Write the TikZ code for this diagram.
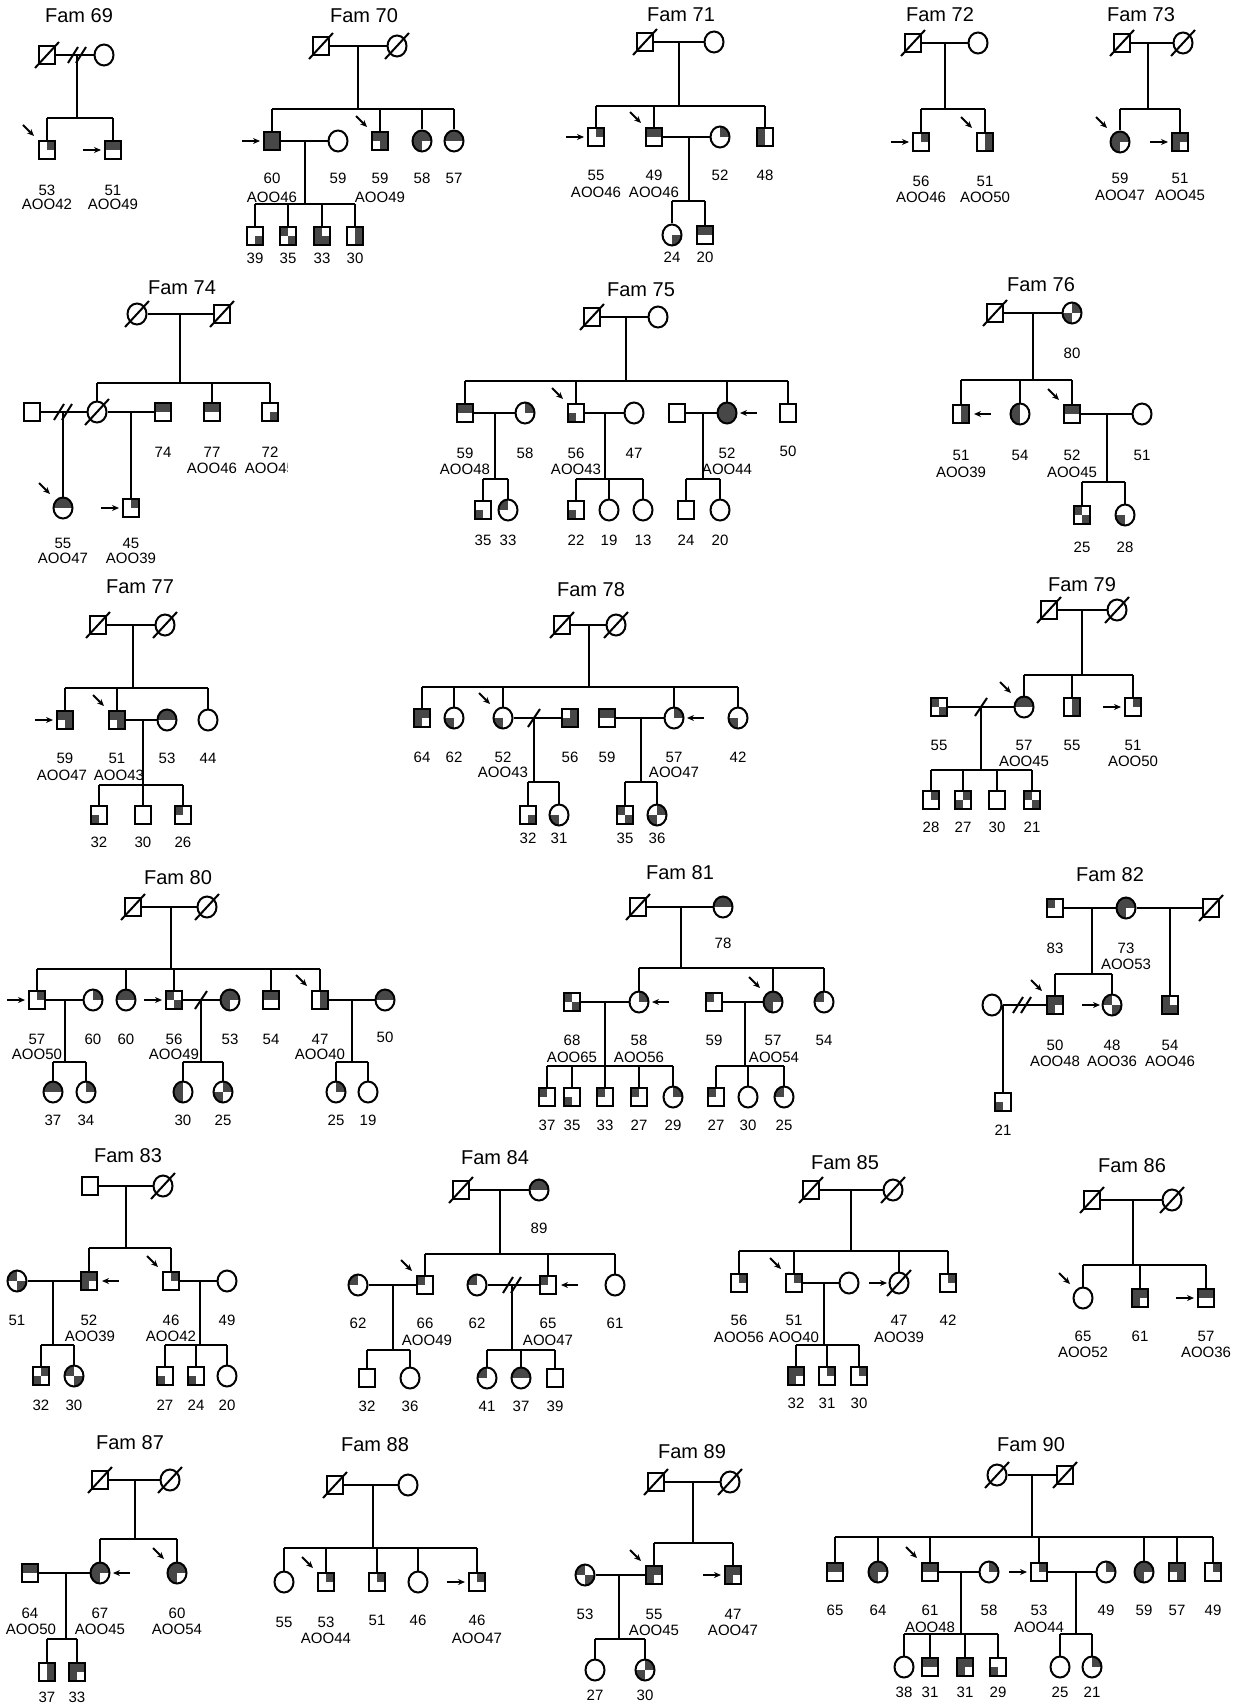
\documentclass[tikz,border=0pt]{standalone}
\usepackage{fontspec}
\setmainfont{Liberation Sans}
\usetikzlibrary{shapes.geometric,arrows.meta}
\tikzset{
 ln/.style={line width=2pt},
 sq/.style={draw,line width=2pt,rectangle,minimum width=16pt,minimum height=18pt,inner sep=0pt},
 ci/.style={draw,line width=2pt,ellipse,minimum width=19pt,minimum height=21pt,inner sep=0pt},
 af/.style={fill=black!72},
 lab/.style={font=\fontsize{15}{17}\selectfont,inner sep=0pt},
 ttl/.style={font=\fontsize{20}{24}\selectfont,inner sep=0pt},
 parr/.style={line width=1.8pt,-{Stealth[length=7pt,width=6pt]}},
}
\def\QF#1#2#3#4\relax{%
  \ifnum#1=1 \fill[af] (-12,-12) rectangle (0,0);\fi
  \ifnum#2=1 \fill[af] (0,-12) rectangle (12,0);\fi
  \ifnum#3=1 \fill[af] (-12,0) rectangle (0,12);\fi
  \ifnum#4=1 \fill[af] (0,0) rectangle (12,12);\fi}
\newcommand\SQ[3]{\begin{scope}[shift={(#2)}]\clip (-8,-9) rectangle (8,9);\QF#3\relax\end{scope}\node[sq] (#1) at (#2) {};}
\newcommand\CI[3]{\begin{scope}[shift={(#2)}]\clip (0,0) ellipse [x radius=9.5, y radius=10.5];\QF#3\relax\end{scope}\node[ci] (#1) at (#2) {};}
\newcommand\DEC[1]{\draw[ln] ([shift={(-12,13)}]#1.center) -- ([shift={(12,-13)}]#1.center);}
\newcommand\PRO[1]{\draw[parr] ([shift={(-24,-25)}]#1.center) -- ([shift={(-13,-14)}]#1.center);}
\newcommand\ARL[1]{\draw[parr] ([shift={(-30,0)}]#1.center) -- ([shift={(-12,0)}]#1.center);}
\newcommand\ARR[1]{\draw[parr] ([shift={(30,0)}]#1.center) -- ([shift={(13,0)}]#1.center);}
\newcommand\DIV[1]{\draw[ln] ([shift={(-9,8)}]#1) -- ([shift={(1,-8)}]#1); \draw[ln] ([shift={(-1,8)}]#1) -- ([shift={(9,-8)}]#1);}
\newcommand\SEP[1]{\draw[ln] ([shift={(-6,9)}]#1) -- ([shift={(6,-9)}]#1);}
\newcommand\SIB[4]{\draw[ln] (#1) -- (#2); \draw[ln] (#3 |- #2) -- (#4 |- #2);}
\newcommand\KIDS[2]{\foreach \kid in {#2}{\draw[ln] (\kid |- #1) -- (\kid);}}
\newcounter{lbl}
\newcommand\LB[2]{\stepcounter{lbl}\node[lab] (lb\thelbl) at (#1) {#2};}
\begin{document}
\begin{tikzpicture}[x=1pt,y=-1pt]
\useasboundingbox (0,0) rectangle (1245,1704);
% ---------- Fam 69
\node[ttl] (t69) at (79,16) {Fam 69};
\SQ{a69}{47,55}{0000}\DEC{a69}
\CI{b69}{104,55}{0000}
\draw[ln] (a69) -- (b69);
\coordinate (m69) at (77,55); \coordinate (s69) at (77,118); \DIV{m69}
\SQ{c69}{47,150}{0100}\PRO{c69}
\SQ{d69}{113,150}{1100}\ARL{d69}
\SIB{m69}{s69}{c69}{d69}\KIDS{s69}{c69,d69}
\LB{47,190}{53}\LB{47,204}{AOO42}\LB{113,190}{51}\LB{113,204}{AOO49}
% ---------- Fam 70
\node[ttl] (t70) at (364,16) {Fam 70};
\SQ{a70}{321,46}{0000}\DEC{a70}
\CI{b70}{397,46}{0000}\DEC{b70}
\draw[ln] (a70) -- (b70);
\coordinate (m70) at (358,46); \coordinate (s70) at (358,109);
\SQ{c70}{272,141}{1111}\ARL{c70}
\CI{d70}{338,141}{0000}
\SQ{e70}{380,141}{1101}\PRO{e70}
\CI{f70}{422,141}{1110}
\CI{g70}{454,141}{1100}
\SIB{m70}{s70}{c70}{g70}\KIDS{s70}{c70,e70,f70,g70}
\draw[ln] (c70) -- (d70);
\coordinate (n70) at (305,141); \coordinate (u70) at (305,204);
\SQ{h70}{255,236}{0001}\SQ{i70}{288,236}{1001}\SQ{j70}{322,236}{1011}\SQ{k70}{355,236}{0101}
\SIB{n70}{u70}{h70}{k70}\KIDS{u70}{h70,i70,j70,k70}
\LB{272,178}{60}\LB{272,197}{AOO46}\LB{338,178}{59}\LB{380,178}{59}\LB{380,197}{AOO49}
\LB{422,178}{58}\LB{454,178}{57}
\LB{255,258}{39}\LB{288,258}{35}\LB{322,258}{33}\LB{355,258}{30}
% ---------- Fam 71
\node[ttl] (t71) at (681,15) {Fam 71};
\SQ{a71}{645,42}{0000}\DEC{a71}
\CI{b71}{714,42}{0000}
\draw[ln] (a71) -- (b71);
\coordinate (m71) at (679,42); \coordinate (s71) at (679,106);
\SQ{c71}{596,137}{0100}\ARL{c71}
\SQ{d71}{654,137}{1100}\PRO{d71}
\CI{e71}{720,137}{0100}
\SQ{f71}{765,137}{1010}
\SIB{m71}{s71}{c71}{f71}\KIDS{s71}{c71,d71,f71}
\draw[ln] (d71) -- (e71);
\coordinate (n71) at (689,137); \coordinate (u71) at (689,201);
\CI{g71}{672,235}{0001}\SQ{h71}{705,235}{1100}
\SIB{n71}{u71}{g71}{h71}\KIDS{u71}{g71,h71}
\LB{596,175}{55}\LB{596,192}{AOO46}\LB{654,175}{49}\LB{654,192}{AOO46}
\LB{720,175}{52}\LB{765,175}{48}\LB{672,257}{24}\LB{705,257}{20}
% ---------- Fam 72
\node[ttl] (t72) at (940,15) {Fam 72};
\SQ{a72}{913,43}{0000}\DEC{a72}
\CI{b72}{978,43}{0000}
\draw[ln] (a72) -- (b72);
\coordinate (m72) at (945,43); \coordinate (s72) at (945,109);
\SQ{c72}{921,142}{0100}\ARL{c72}
\SQ{d72}{985,142}{0101}\PRO{d72}
\SIB{m72}{s72}{c72}{d72}\KIDS{s72}{c72,d72}
\LB{921,181}{56}\LB{921,197}{AOO46}\LB{985,181}{51}\LB{985,197}{AOO50}
% ---------- Fam 73
\node[ttl] (t73) at (1141,15) {Fam 73};
\SQ{a73}{1122,43}{0000}\DEC{a73}
\CI{b73}{1183,43}{0000}\DEC{b73}
\draw[ln] (a73) -- (b73);
\coordinate (m73) at (1148,43); \coordinate (s73) at (1148,109);
\CI{c73}{1120,142}{1110}\PRO{c73}
\SQ{d73}{1180,142}{1110}\ARL{d73}
\SIB{m73}{s73}{c73}{d73}\KIDS{s73}{c73,d73}
\LB{1120,178}{59}\LB{1120,195}{AOO47}\LB{1180,178}{51}\LB{1180,195}{AOO45}
% ---------- Fam 74
\node[ttl] (t74) at (182,288) {Fam 74};
\CI{a74}{137,314}{0000}\DEC{a74}
\SQ{b74}{222,314}{0000}\DEC{b74}
\draw[ln] (a74) -- (b74);
\coordinate (m74) at (180,314); \coordinate (s74) at (180,383);
\SQ{c74}{32,412}{0000}
\CI{d74}{97,412}{0000}\DEC{d74}
\SQ{e74}{163,412}{1100}
\SQ{f74}{212,412}{1100}
\SQ{g74}{270,412}{0001}
\SIB{m74}{s74}{d74}{g74}\KIDS{s74}{d74,f74,g74}
\draw[ln] (c74) -- (d74);
\coordinate (n74) at (63,412); \DIV{n74}
\CI{h74}{63,508}{1100}\PRO{h74}
\draw[ln] (n74) -- (h74);
\draw[ln] (d74) -- (e74);
\coordinate (o74) at (131,412);
\SQ{i74}{131,508}{0100}\ARL{i74}
\draw[ln] (o74) -- (i74);
\LB{163,452}{74}\LB{212,452}{77}\LB{212,468}{AOO46}\LB{270,452}{72}
\begin{scope}\clip (240,455) rectangle (287,482);\LB{270,468}{AOO45}\end{scope}
\LB{63,543}{55}\LB{63,558}{AOO47}\LB{131,543}{45}\LB{131,558}{AOO39}
% ---------- Fam 75
\node[ttl] (t75) at (641,290) {Fam 75};
\SQ{a75}{592,317}{0000}\DEC{a75}
\CI{b75}{658,317}{0000}
\draw[ln] (a75) -- (b75);
\coordinate (m75) at (626,317); \coordinate (s75) at (626,381);
\SQ{c75}{465,413}{1100}\CI{d75}{525,413}{0100}
\SQ{e75}{576,413}{0010}\PRO{e75}\CI{f75}{634,413}{0000}
\SQ{g75}{677,413}{0000}\CI{h75}{727,413}{1111}\ARR{h75}
\SQ{i75}{788,413}{0000}
\SIB{m75}{s75}{c75}{i75}\KIDS{s75}{c75,e75,h75,i75}
\draw[ln] (c75) -- (d75); \draw[ln] (e75) -- (f75); \draw[ln] (g75) -- (h75);
\coordinate (n75) at (495,413); \coordinate (u75) at (495,479);
\SQ{j75}{483,510}{0010}\CI{k75}{508,510}{1000}
\SIB{n75}{u75}{j75}{k75}\KIDS{u75}{j75,k75}
\coordinate (o75) at (605,413); \coordinate (v75) at (605,479);
\SQ{l75}{576,510}{0010}\CI{p75}{609,510}{0000}\CI{q75}{643,510}{0000}
\SIB{o75}{v75}{l75}{q75}\KIDS{v75}{l75,p75,q75}
\coordinate (r75) at (703,413); \coordinate (w75) at (703,479);
\SQ{x75}{686,510}{0000}\CI{y75}{720,510}{0000}
\SIB{r75}{w75}{x75}{y75}\KIDS{w75}{x75,y75}
\LB{465,453}{59}\LB{465,469}{AOO48}\LB{525,453}{58}\LB{576,453}{56}\LB{576,469}{AOO43}
\LB{634,453}{47}\LB{727,453}{52}\LB{727,469}{AOO44}\LB{788,451}{50}
\LB{483,540}{35}\LB{508,540}{33}\LB{576,540}{22}\LB{609,540}{19}\LB{643,540}{13}\LB{686,540}{24}\LB{720,540}{20}
% ---------- Fam 76
\node[ttl] (t76) at (1041,285) {Fam 76};
\SQ{a76}{995,313}{0000}\DEC{a76}
\CI{b76}{1072,313}{0110}
\draw[ln] (a76) -- (b76);
\coordinate (m76) at (1033,313); \coordinate (s76) at (1033,380);
\SQ{c76}{961,414}{0101}\ARR{c76}
\CI{d76}{1020,414}{1010}
\SQ{e76}{1072,414}{1100}\PRO{e76}
\CI{f76}{1142,414}{0000}
\SIB{m76}{s76}{c76}{e76}\KIDS{s76}{c76,d76,e76}
\draw[ln] (e76) -- (f76);
\coordinate (n76) at (1107,414); \coordinate (u76) at (1107,482);
\SQ{g76}{1082,515}{1001}\CI{h76}{1125,515}{0010}
\SIB{n76}{u76}{g76}{h76}\KIDS{u76}{g76,h76}
\LB{1072,353}{80}\LB{961,455}{51}\LB{961,472}{AOO39}\LB{1020,455}{54}\LB{1072,455}{52}\LB{1072,472}{AOO45}
\LB{1142,455}{51}\LB{1082,547}{25}\LB{1125,547}{28}
% ---------- Fam 77
\node[ttl] (t77) at (140,587) {Fam 77};
\SQ{a77}{98,625}{0000}\DEC{a77}
\CI{b77}{165,625}{0000}\DEC{b77}
\draw[ln] (a77) -- (b77);
\coordinate (m77) at (133,625); \coordinate (s77) at (133,688);
\SQ{c77}{65,720}{1101}\ARL{c77}
\SQ{d77}{117,720}{1101}\PRO{d77}
\CI{e77}{167,720}{1100}
\CI{f77}{208,720}{0000}
\SIB{m77}{s77}{c77}{f77}\KIDS{s77}{c77,d77,f77}
\draw[ln] (d77) -- (e77);
\coordinate (n77) at (143,720); \coordinate (u77) at (143,785);
\SQ{g77}{99,815}{0010}\SQ{h77}{143,815}{0000}\SQ{i77}{183,815}{1000}
\SIB{n77}{u77}{g77}{i77}\KIDS{u77}{g77,h77,i77}
\LB{65,758}{59}\LB{62,775}{AOO47}\LB{117,758}{51}\LB{119,775}{AOO43}\LB{167,758}{53}\LB{208,758}{44}
\LB{99,842}{32}\LB{143,842}{30}\LB{183,842}{26}
% ---------- Fam 78
\node[ttl] (t78) at (591,590) {Fam 78};
\SQ{a78}{562,625}{0000}\DEC{a78}
\CI{b78}{616,625}{0000}\DEC{b78}
\draw[ln] (a78) -- (b78);
\coordinate (m78) at (589,625); \coordinate (s78) at (589,687);
\SQ{c78}{422,718}{1110}\CI{d78}{454,718}{0010}
\CI{e78}{503,718}{0010}\PRO{e78}\SQ{f78}{570,718}{0111}
\SQ{g78}{607,718}{1100}\CI{h78}{674,718}{0100}\ARR{h78}
\CI{i78}{738,718}{0010}
\SIB{m78}{s78}{c78}{i78}\KIDS{s78}{c78,d78,e78,h78,i78}
\draw[ln] (e78) -- (f78); \draw[ln] (g78) -- (h78);
\coordinate (n78) at (534,718); \coordinate (u78) at (534,782); \SEP{n78}
\SQ{j78}{528,815}{0001}\CI{k78}{559,815}{0010}
\SIB{n78}{u78}{j78}{k78}\KIDS{u78}{j78,k78}
\coordinate (o78) at (641,718); \coordinate (v78) at (641,782);
\SQ{l78}{625,815}{1001}\CI{p78}{657,815}{0110}
\SIB{o78}{v78}{l78}{p78}\KIDS{v78}{l78,p78}
\LB{422,757}{64}\LB{454,757}{62}\LB{503,757}{52}\LB{503,772}{AOO43}\LB{570,757}{56}
\LB{607,757}{59}\LB{674,757}{57}\LB{674,772}{AOO47}\LB{738,757}{42}
\LB{528,838}{32}\LB{559,838}{31}\LB{625,838}{35}\LB{657,838}{36}
% ---------- Fam 79
\node[ttl] (t79) at (1082,585) {Fam 79};
\SQ{a79}{1049,610}{0000}\DEC{a79}
\CI{b79}{1117,610}{0000}\DEC{b79}
\draw[ln] (a79) -- (b79);
\coordinate (m79) at (1082,610); \coordinate (s79) at (1082,675);
\SQ{c79}{939,707}{1001}
\CI{d79}{1024,707}{1100}\PRO{d79}
\SQ{e79}{1072,707}{0101}
\SQ{f79}{1133,707}{0100}\ARL{f79}
\SIB{m79}{s79}{d79}{f79}\KIDS{s79}{d79,e79,f79}
\draw[ln] (c79) -- (d79);
\coordinate (n79) at (981,707); \coordinate (u79) at (981,770); \SEP{n79}
\SQ{g79}{931,800}{0100}\SQ{h79}{963,800}{0110}\SQ{i79}{997,800}{0000}\SQ{j79}{1032,800}{1001}
\SIB{n79}{u79}{g79}{j79}\KIDS{u79}{g79,h79,i79,j79}
\LB{939,745}{55}\LB{1024,745}{57}\LB{1024,761}{AOO45}\LB{1072,745}{55}\LB{1133,745}{51}\LB{1133,761}{AOO50}
\LB{931,827}{28}\LB{963,827}{27}\LB{997,827}{30}\LB{1032,827}{21}
% ---------- Fam 80
\node[ttl] (t80) at (178,878) {Fam 80};
\SQ{a80}{133,907}{0000}\DEC{a80}
\CI{b80}{207,907}{0000}\DEC{b80}
\draw[ln] (a80) -- (b80);
\coordinate (m80) at (171,907); \coordinate (s80) at (171,969);
\SQ{c80}{37,1000}{0100}\ARL{c80}\CI{d80}{93,1000}{0100}
\CI{e80}{126,1000}{1100}
\SQ{f80}{174,1000}{1001}\ARL{f80}\CI{g80}{230,1000}{1110}
\SQ{h80}{271,1000}{1100}
\SQ{i80}{320,1000}{0101}\PRO{i80}\CI{j80}{385,1000}{1100}
\SIB{m80}{s80}{c80}{i80}\KIDS{s80}{c80,e80,f80,h80,i80}
\draw[ln] (c80) -- (d80); \draw[ln] (f80) -- (g80); \draw[ln] (i80) -- (j80);
\coordinate (n80) at (65,1000); \coordinate (u80) at (65,1062);
\CI{k80}{53,1092}{1100}\CI{l80}{86,1092}{0100}
\SIB{n80}{u80}{k80}{l80}\KIDS{u80}{k80,l80}
\coordinate (o80) at (201,1000); \coordinate (v80) at (201,1062); \SEP{o80}
\CI{p80}{183,1092}{1010}\CI{q80}{223,1092}{0110}
\SIB{o80}{v80}{p80}{q80}\KIDS{v80}{p80,q80}
\coordinate (r80) at (352,1000); \coordinate (w80) at (352,1062);
\CI{x80}{336,1092}{0100}\CI{y80}{368,1092}{0000}
\SIB{r80}{w80}{x80}{y80}\KIDS{w80}{x80,y80}
\LB{37,1039}{57}\LB{37,1054}{AOO50}\LB{93,1039}{60}\LB{126,1039}{60}\LB{174,1039}{56}\LB{174,1054}{AOO49}
\LB{230,1039}{53}\LB{271,1039}{54}\LB{320,1039}{47}\LB{320,1054}{AOO40}\LB{385,1037}{50}
\LB{53,1120}{37}\LB{86,1120}{34}\LB{183,1120}{30}\LB{223,1120}{25}\LB{336,1120}{25}\LB{368,1120}{19}
% ---------- Fam 81
\node[ttl] (t81) at (680,873) {Fam 81};
\SQ{a81}{638,907}{0000}\DEC{a81}
\CI{b81}{723,907}{1100}
\draw[ln] (a81) -- (b81);
\coordinate (m81) at (681,907); \coordinate (s81) at (681,968);
\SQ{c81}{572,1002}{1001}\CI{d81}{639,1002}{0100}\ARR{d81}
\SQ{e81}{714,1002}{1000}\CI{f81}{773,1002}{1110}\PRO{f81}
\CI{g81}{824,1002}{1000}
\SIB{m81}{s81}{d81}{g81}\KIDS{s81}{d81,f81,g81}
\draw[ln] (c81) -- (d81); \draw[ln] (e81) -- (f81);
\coordinate (n81) at (605,1002); \coordinate (u81) at (605,1066);
\SQ{h81}{547,1097}{1000}\SQ{i81}{572,1097}{0010}\SQ{j81}{605,1097}{1000}\SQ{k81}{639,1097}{1000}\CI{l81}{673,1097}{0100}
\SIB{n81}{u81}{h81}{l81}\KIDS{u81}{h81,i81,j81,k81,l81}
\coordinate (o81) at (745,1002); \coordinate (v81) at (745,1066);
\SQ{p81}{716,1097}{1000}\CI{q81}{748,1097}{0000}\CI{r81}{784,1097}{1000}
\SIB{o81}{v81}{p81}{r81}\KIDS{v81}{p81,q81,r81}
\LB{723,943}{78}\LB{572,1040}{68}\LB{572,1057}{AOO65}\LB{639,1040}{58}\LB{639,1057}{AOO56}
\LB{714,1040}{59}\LB{773,1040}{57}\LB{774,1057}{AOO54}\LB{824,1040}{54}
\LB{547,1125}{37}\LB{572,1125}{35}\LB{605,1125}{33}\LB{639,1125}{27}\LB{673,1125}{29}
\LB{716,1125}{27}\LB{748,1125}{30}\LB{784,1125}{25}
% ---------- Fam 82
\node[ttl] (t82) at (1110,875) {Fam 82};
\SQ{a82}{1055,908}{1000}\CI{b82}{1126,908}{1110}\SQ{c82}{1211,908}{0000}\DEC{c82}
\draw[ln] (a82) -- (b82); \draw[ln] (b82) -- (c82);
\coordinate (m82) at (1092,908); \coordinate (s82) at (1092,974);
\SQ{d82}{1055,1005}{1110}\PRO{d82}
\CI{e82}{1112,1005}{1001}\ARL{e82}
\SIB{m82}{s82}{d82}{e82}\KIDS{s82}{d82,e82}
\coordinate (n82) at (1170,908);
\SQ{f82}{1170,1005}{1011}
\draw[ln] (n82) -- (f82);
\CI{g82}{992,1005}{0000}
\draw[ln] (g82) -- (d82);
\coordinate (o82) at (1022,1005); \DIV{o82}
\coordinate (p82) at (1003,1005);
\SQ{h82}{1003,1102}{0010}
\draw[ln] (p82) -- (h82);
\LB{1055,948}{83}\LB{1126,948}{73}\LB{1126,964}{AOO53}\LB{1055,1045}{50}\LB{1055,1061}{AOO48}
\LB{1112,1045}{48}\LB{1112,1061}{AOO36}\LB{1170,1045}{54}\LB{1170,1061}{AOO46}\LB{1003,1130}{21}
% ---------- Fam 83
\node[ttl] (t83) at (128,1156) {Fam 83};
\SQ{a83}{90,1186}{0000}
\CI{b83}{163,1186}{0000}\DEC{b83}
\draw[ln] (a83) -- (b83);
\coordinate (m83) at (126,1186); \coordinate (s83) at (126,1248);
\CI{c83}{17,1281}{1001}\SQ{d83}{89,1281}{1110}\ARR{d83}
\SQ{e83}{171,1281}{0100}\PRO{e83}\CI{f83}{227,1281}{0000}
\SIB{m83}{s83}{d83}{e83}\KIDS{s83}{d83,e83}
\draw[ln] (c83) -- (d83); \draw[ln] (e83) -- (f83);
\coordinate (n83) at (53,1281); \coordinate (u83) at (53,1345);
\SQ{g83}{41,1376}{0110}\CI{h83}{74,1376}{1001}
\SIB{n83}{u83}{g83}{h83}\KIDS{u83}{g83,h83}
\coordinate (o83) at (200,1281); \coordinate (v83) at (200,1345);
\SQ{i83}{165,1376}{0010}\SQ{j83}{196,1376}{0010}\CI{k83}{227,1376}{0000}
\SIB{o83}{v83}{i83}{k83}\KIDS{v83}{i83,j83,k83}
\LB{17,1320}{51}\LB{89,1320}{52}\LB{90,1336}{AOO39}\LB{171,1320}{46}\LB{171,1336}{AOO42}\LB{227,1320}{49}
\LB{41,1405}{32}\LB{74,1405}{30}\LB{165,1405}{27}\LB{196,1405}{24}\LB{227,1405}{20}
% ---------- Fam 84
\node[ttl] (t84) at (495,1158) {Fam 84};
\SQ{a84}{461,1190}{0000}\DEC{a84}
\CI{b84}{539,1190}{1100}
\draw[ln] (a84) -- (b84);
\coordinate (m84) at (500,1190); \coordinate (s84) at (500,1254);
\CI{c84}{358,1285}{1000}\SQ{d84}{425,1285}{1000}\PRO{d84}
\CI{e84}{477,1285}{1000}\SQ{f84}{548,1285}{1000}\ARR{f84}
\CI{g84}{615,1285}{0000}
\SIB{m84}{s84}{d84}{g84}\KIDS{s84}{d84,f84,g84}
\draw[ln] (c84) -- (d84); \draw[ln] (e84) -- (f84);
\coordinate (n84) at (393,1285); \coordinate (u84) at (393,1350);
\SQ{h84}{367,1378}{0000}\CI{i84}{410,1378}{0000}
\SIB{n84}{u84}{h84}{i84}\KIDS{u84}{h84,i84}
\coordinate (o84) at (512,1285); \coordinate (v84) at (512,1350); \DIV{o84}
\CI{j84}{487,1378}{1000}\CI{k84}{521,1378}{1100}\SQ{l84}{555,1378}{0000}
\SIB{o84}{v84}{j84}{l84}\KIDS{v84}{j84,k84,l84}
\LB{539,1228}{89}\LB{358,1323}{62}\LB{425,1323}{66}\LB{427,1340}{AOO49}\LB{477,1323}{62}
\LB{548,1323}{65}\LB{548,1340}{AOO47}\LB{615,1323}{61}
\LB{367,1406}{32}\LB{410,1406}{36}\LB{487,1406}{41}\LB{521,1406}{37}\LB{555,1406}{39}
% ---------- Fam 85
\node[ttl] (t85) at (845,1163) {Fam 85};
\SQ{a85}{811,1190}{0000}\DEC{a85}
\CI{b85}{893,1190}{0000}\DEC{b85}
\draw[ln] (a85) -- (b85);
\coordinate (m85) at (851,1190); \coordinate (s85) at (851,1251);
\SQ{c85}{739,1283}{0100}\SQ{d85}{794,1283}{0100}\PRO{d85}\CI{e85}{849,1283}{0000}
\CI{f85}{899,1283}{0000}\DEC{f85}\ARL{f85}\SQ{g85}{948,1283}{0100}
\SIB{m85}{s85}{c85}{g85}\KIDS{s85}{c85,d85,f85,g85}
\draw[ln] (d85) -- (e85);
\coordinate (n85) at (824,1283); \coordinate (u85) at (824,1345);
\SQ{h85}{796,1376}{1110}\SQ{i85}{827,1376}{0100}\SQ{j85}{859,1376}{0100}
\SIB{n85}{u85}{h85}{j85}\KIDS{u85}{h85,i85,j85}
\LB{739,1320}{56}\LB{739,1337}{AOO56}\LB{794,1320}{51}\LB{794,1337}{AOO40}
\LB{899,1320}{47}\LB{899,1337}{AOO39}\LB{948,1320}{42}
\LB{796,1403}{32}\LB{827,1403}{31}\LB{859,1403}{30}
% ---------- Fam 86
\node[ttl] (t86) at (1132,1166) {Fam 86};
\SQ{a86}{1092,1200}{0000}\DEC{a86}
\CI{b86}{1172,1200}{0000}\DEC{b86}
\draw[ln] (a86) -- (b86);
\coordinate (m86) at (1133,1200); \coordinate (s86) at (1133,1265);
\CI{c86}{1083,1298}{0000}\PRO{c86}\SQ{d86}{1140,1298}{1110}\SQ{e86}{1206,1298}{1100}\ARL{e86}
\SIB{m86}{s86}{c86}{e86}\KIDS{s86}{c86,d86,e86}
\LB{1083,1336}{65}\LB{1083,1352}{AOO52}\LB{1140,1336}{61}\LB{1206,1336}{57}\LB{1206,1352}{AOO36}
% ---------- Fam 87
\node[ttl] (t87) at (130,1443) {Fam 87};
\SQ{a87}{100,1480}{0000}\DEC{a87}
\CI{b87}{170,1480}{0000}\DEC{b87}
\draw[ln] (a87) -- (b87);
\coordinate (m87) at (135,1480); \coordinate (s87) at (135,1539);
\SQ{c87}{30,1573}{1100}\CI{d87}{100,1573}{1110}\ARR{d87}\CI{e87}{177,1573}{1110}\PRO{e87}
\SIB{m87}{s87}{d87}{e87}\KIDS{s87}{d87,e87}
\draw[ln] (c87) -- (d87);
\coordinate (n87) at (66,1573); \coordinate (u87) at (66,1639);
\SQ{f87}{47,1672}{0101}\SQ{g87}{77,1672}{1110}
\SIB{n87}{u87}{f87}{g87}\KIDS{u87}{f87,g87}
\LB{30,1613}{64}\LB{31,1629}{AOO50}\LB{100,1613}{67}\LB{100,1629}{AOO45}\LB{177,1613}{60}\LB{177,1629}{AOO54}
\LB{47,1697}{37}\LB{77,1697}{33}
% ---------- Fam 88
\node[ttl] (t88) at (375,1445) {Fam 88};
\SQ{a88}{335,1485}{0000}\DEC{a88}
\CI{b88}{408,1485}{0000}
\draw[ln] (a88) -- (b88);
\coordinate (m88) at (373,1485); \coordinate (s88) at (373,1548);
\CI{c88}{284,1582}{0000}\SQ{d88}{326,1582}{0100}\PRO{d88}\SQ{e88}{377,1582}{0100}
\CI{f88}{418,1582}{0000}\SQ{g88}{477,1582}{0100}\ARL{g88}
\SIB{m88}{s88}{c88}{g88}\KIDS{s88}{c88,d88,e88,f88,g88}
\LB{284,1622}{55}\LB{326,1622}{53}\LB{326,1638}{AOO44}\LB{377,1620}{51}\LB{418,1620}{46}
\LB{477,1620}{46}\LB{477,1638}{AOO47}
% ---------- Fam 89
\node[ttl] (t89) at (692,1452) {Fam 89};
\SQ{a89}{656,1482}{0000}\DEC{a89}
\CI{b89}{730,1482}{0000}\DEC{b89}
\draw[ln] (a89) -- (b89);
\coordinate (m89) at (693,1482); \coordinate (s89) at (693,1543);
\CI{c89}{585,1575}{1001}\SQ{d89}{654,1575}{1110}\PRO{d89}\SQ{e89}{733,1575}{1110}\ARL{e89}
\SIB{m89}{s89}{d89}{e89}\KIDS{s89}{d89,e89}
\draw[ln] (c89) -- (d89);
\coordinate (n89) at (619,1575); \coordinate (u89) at (619,1639);
\CI{f89}{595,1670}{0000}\CI{g89}{645,1670}{0110}
\SIB{n89}{u89}{f89}{g89}\KIDS{u89}{f89,g89}
\LB{585,1614}{53}\LB{654,1614}{55}\LB{654,1630}{AOO45}\LB{733,1614}{47}\LB{733,1630}{AOO47}
\LB{595,1695}{27}\LB{645,1695}{30}
% ---------- Fam 90
\node[ttl] (t90) at (1031,1445) {Fam 90};
\CI{a90}{997,1475}{0000}\DEC{a90}
\SQ{b90}{1065,1475}{0000}\DEC{b90}
\draw[ln] (a90) -- (b90);
\coordinate (m90) at (1032,1475); \coordinate (s90) at (1032,1537);
\SQ{c90}{835,1572}{1100}\CI{d90}{878,1572}{1110}
\SQ{e90}{930,1572}{1100}\PRO{e90}\CI{f90}{989,1572}{0100}
\SQ{g90}{1039,1572}{0100}\ARL{g90}\CI{h90}{1106,1572}{0100}
\CI{i90}{1144,1572}{1110}\SQ{j90}{1177,1572}{1101}\SQ{k90}{1213,1572}{0100}
\SIB{m90}{s90}{c90}{k90}\KIDS{s90}{c90,d90,e90,g90,i90,j90,k90}
\draw[ln] (e90) -- (f90); \draw[ln] (g90) -- (h90);
\coordinate (n90) at (961,1572); \coordinate (u90) at (961,1634);
\CI{l90}{904,1667}{0000}\SQ{o90}{930,1667}{1100}\SQ{p90}{965,1667}{1110}\SQ{q90}{998,1667}{0010}
\SIB{n90}{u90}{l90}{q90}\KIDS{u90}{l90,o90,p90,q90}
\coordinate (r90) at (1076,1572); \coordinate (v90) at (1076,1634);
\CI{w90}{1060,1667}{0000}\CI{x90}{1092,1667}{0100}
\SIB{r90}{v90}{w90}{x90}\KIDS{v90}{w90,x90}
\LB{835,1610}{65}\LB{878,1610}{64}\LB{930,1610}{61}\LB{930,1627}{AOO48}\LB{989,1610}{58}
\LB{1039,1610}{53}\LB{1039,1627}{AOO44}\LB{1106,1610}{49}\LB{1144,1610}{59}\LB{1177,1610}{57}\LB{1213,1610}{49}
\LB{904,1692}{38}\LB{930,1692}{31}\LB{965,1692}{31}\LB{998,1692}{29}\LB{1060,1692}{25}\LB{1092,1692}{21}
\end{tikzpicture}
\end{document}
